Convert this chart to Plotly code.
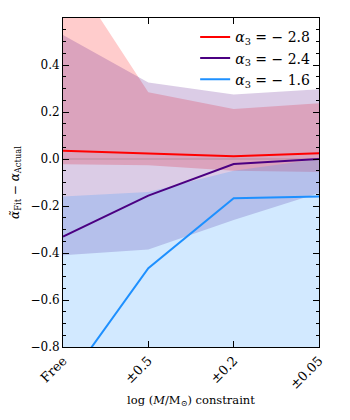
import plotly.graph_objects as go

categories = ["Free", "±0.5", "±0.2", "±0.05"]
xpos = [0, 1, 2, 3]

labels = ["<i>α</i><sub>3</sub> = − 2.8", "<i>α</i><sub>3</sub> = − 2.4", "<i>α</i><sub>3</sub> = − 1.6"]

red_mid = [0.035, 0.025, 0.012, 0.024]
red_hi = [0.84, 0.284, 0.213, 0.237]
red_lo = [-0.022, -0.027, -0.05, -0.055]

pur_mid = [-0.33, -0.156, -0.021, 0.0]
pur_hi = [0.528, 0.325, 0.274, 0.297]
pur_lo = [-0.41, -0.385, -0.26, -0.145]

blu_mid = [-0.97, -0.465, -0.167, -0.16]
blu_hi = [-0.16, -0.14, -0.05, 0.0]
blu_lo = [-1.5, -1.2, -1.0, -0.9]

zero_level = 0.0

yticks = [-0.8, -0.6, -0.4, -0.2, 0.0, 0.2, 0.4]
ytick_text = ["−0.8", "−0.6", "−0.4", "−0.2", "0.0", "0.2", "0.4"]

series = [
    (red_mid, red_hi, red_lo, "#ff0000", "rgba(255,0,0,0.2)"),
    (pur_mid, pur_hi, pur_lo, "#4b0082", "rgba(75,0,130,0.2)"),
    (blu_mid, blu_hi, blu_lo, "#1e90ff", "rgba(30,144,255,0.2)"),
]

FONT = "DejaVu Serif"
fig = go.Figure()

for mid, hi, lo, lc, fc in series:
    fig.add_trace(go.Scatter(x=xpos, y=hi, mode="lines", line=dict(width=0),
                             showlegend=False, hoverinfo="skip"))
    fig.add_trace(go.Scatter(x=xpos, y=lo, mode="lines", line=dict(width=0),
                             fill="tonexty", fillcolor=fc, showlegend=False, hoverinfo="skip"))

fig.add_trace(go.Scatter(x=[xpos[0], xpos[-1]], y=[zero_level, zero_level], mode="lines",
                         line=dict(color="rgba(0,0,0,0.15)", width=1),
                         showlegend=False, hoverinfo="skip"))

for (mid, hi, lo, lc, fc), lab in zip(series, labels):
    fig.add_trace(go.Scatter(x=xpos, y=mid, mode="lines", name=lab,
                             line=dict(color=lc, width=2)))

fig.update_layout(
    width=350, height=420,
    margin=dict(l=63, r=31, t=18, b=73, autoexpand=False),
    paper_bgcolor="white", plot_bgcolor="white",
    font=dict(family=FONT, size=12, color="black"),
    showlegend=True,
    legend=dict(x=0.985, y=0.99, xanchor="right", yanchor="top", traceorder="normal",
                bgcolor="rgba(0,0,0,0)", font=dict(family=FONT, size=14),
                itemwidth=30, tracegroupgap=0),
)

fig.update_xaxes(
    range=[0, 3], tickvals=xpos, ticktext=categories, tickangle=-45,
    tickfont=dict(size=13),
    ticks="inside", ticklen=6, tickcolor="black", showgrid=False, zeroline=False,
    showline=True, linecolor="black", linewidth=1, mirror="ticks",
    title=dict(text="log (<i>M</i>/M<sub>⊙</sub>) constraint", font=dict(size=11.5), standoff=4),
)

fig.update_yaxes(
    range=[-0.8, 0.6], tickvals=yticks, ticktext=ytick_text,
    ticks="inside", ticklen=6, tickcolor="black", showgrid=False, zeroline=False,
    showline=True, linecolor="black", linewidth=1, mirror="ticks",
    minor=dict(dtick=0.05, tick0=0, ticks="inside", ticklen=3, tickcolor="black", showgrid=False),
    title=dict(text="<i>α̃</i><sub>Fit</sub> − <i>α</i><sub>Actual</sub>", font=dict(size=12), standoff=8),
)

fig.write_html("out.html", config={"displayModeBar": False},
               post_script="document.body.style.margin='0';")
